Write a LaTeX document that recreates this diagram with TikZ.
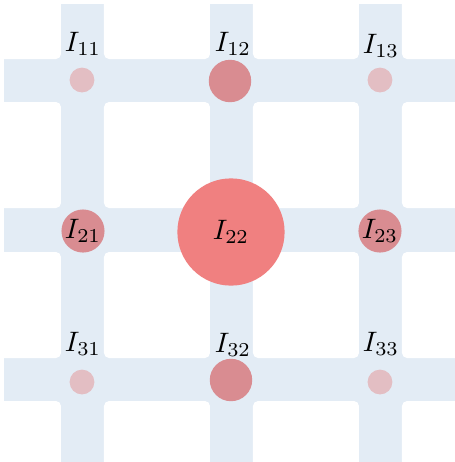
\documentclass[tikz,border=0pt]{standalone}
\definecolor{BandBlue}{HTML}{E3ECF5}
\definecolor{DotStrong}{HTML}{F08080}
\definecolor{DotMid}{HTML}{D98C91}
\definecolor{DotWeak}{HTML}{E3BEC3}
\usepackage{tikz}
\usetikzlibrary{positioning, calc}

\begin{document}
\begin{tikzpicture}[
        x=0.0125cm, y=-0.0125cm,
        cell/.style={fill=white, rounded corners=1.8pt},
        dot/.style={circle, inner sep=0pt, font=\normalsize},
        weak/.style={dot, fill=DotWeak, minimum size=0.31cm},
        mid/.style={dot, fill=DotMid, minimum size=0.53cm},
        strong/.style={dot, fill=DotStrong, minimum size=1.34cm},
        lbl/.style={inner sep=0pt}
    ]
        \useasboundingbox (0,0) rectangle (455,462);
        % bands
        \fill[BandBlue] (4,4) rectangle (455,462);
        \foreach \xa/\xb in {-20/61,104/210,253/359,402/475}
            \foreach \ya/\yb in {-20/59,102/208,252/358,401/480}
                \fill[cell] (\xa,\ya) rectangle (\xb,\yb);
        % crossings
        \node[weak]   (c11) at (82,80)   {};
        \node[mid]    (c12) at (230,81)  {};
        \node[weak]   (c13) at (380,80)  {};
        \node[mid]    (c21) at (83,231)  {$I_{21}$};
        \node[strong] (c22) at (231,232) {$I_{22}$};
        \node[mid]    (c23) at (380,231) {$I_{23}$};
        \node[weak]   (c31) at (82,382)  {};
        \node[mid]    (c32) at (231,380) {};
        \node[weak]   (c33) at (380,382) {};
        % labels on top
        \node[lbl] (t11) at ($(c11)+(1,-36)$)  {$I_{11}$};
        \node[lbl] (t12) at ($(c12)+(3,-37)$)  {$I_{12}$};
        \node[lbl] (t13) at ($(c13)+(1,-34)$)  {$I_{13}$};
        \node[lbl] (t31) at ($(c31)+(1,-38)$)  {$I_{31}$};
        \node[lbl] (t32) at ($(c32)+(2,-35)$)  {$I_{32}$};
        \node[lbl] (t33) at ($(c33)+(1,-38)$)  {$I_{33}$};
    \end{tikzpicture}
\end{document}
